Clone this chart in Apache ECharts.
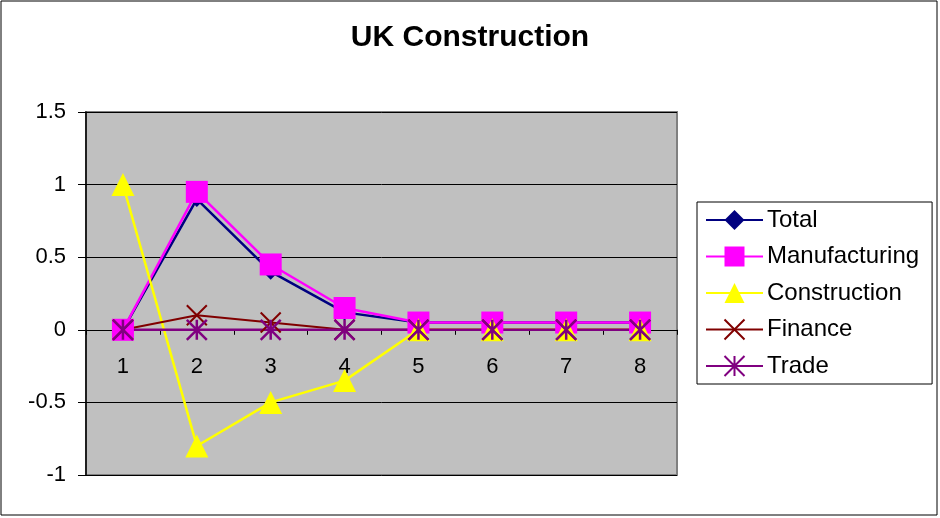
<!DOCTYPE html>
<html>
<head>
<meta charset="utf-8">
<script src="https://cdn.jsdelivr.net/npm/echarts@6/dist/echarts.min.js"></script>
<style>
html,body{margin:0;padding:0;background:#fff;}
#c{width:940px;height:518px;}
</style>
</head>
<body>
<div id="c"></div>
<script>
const categories = ['1','2','3','4','5','6','7','8'];
const total = [0, 0.9, 0.4, 0.12, 0.05, 0.05, 0.05, 0.05];
const manufacturing = [0, 0.95, 0.45, 0.15, 0.05, 0.05, 0.05, 0.05];
const construction = [1.0, -0.8, -0.5, -0.35, 0, 0, 0, 0];
const finance = [0, 0.1, 0.05, 0, 0, 0, 0, 0];
const trade = [0, 0, 0, 0, 0, 0, 0, 0];
const yTicks = {min: -1, max: 1.5, interval: 0.5};

const FONT = '"Liberation Sans", Arial, sans-serif';
const GRID = {left: 86, right: 263, top: 112, bottom: 43};
const plotH = 518 - GRID.top - GRID.bottom;
const zeroOffset = -plotH * (0 - yTicks.min) / (yTicks.max - yTicks.min);

const chart = echarts.init(document.getElementById('c'));

function mk(name, data, color, symbol, size, lw, extra) {
  return Object.assign({
    name: name, type: 'line', data: data,
    symbol: symbol, symbolSize: size,
    lineStyle: {color: color, width: lw},
    itemStyle: {color: color, borderColor: color, borderWidth: 0, opacity: 1},
    emphasis: {disabled: true},
    animation: false
  }, extra || {});
}

chart.setOption({
  backgroundColor: '#ffffff',
  animation: false,
  title: {
    text: 'UK Construction', left: 'center', top: 18,
    textStyle: {fontFamily: FONT, fontSize: 30, fontWeight: 'bold', color: '#000'}
  },
  graphic: [{
    type: 'rect', shape: {x: 1, y: 1, width: 936, height: 514},
    style: {fill: 'none', stroke: '#000', lineWidth: 1}, silent: true, z: -1
  }],
  grid: Object.assign({
    show: true, backgroundColor: '#C0C0C0', borderColor: '#808080', borderWidth: 2
  }, GRID),
  legend: {
    orient: 'vertical', left: 697, top: 202,
    data: ['Total','Manufacturing','Construction','Finance','Trade'],
    itemWidth: 57, itemHeight: 25, itemGap: 12.5,
    padding: [6, 13, 6, 8],
    borderColor: '#000', borderWidth: 1, backgroundColor: '#fff',
    textStyle: {fontFamily: FONT, fontSize: 24, color: '#000', padding: [0,0,0,-1]},
    selectedMode: false
  },
  xAxis: {
    type: 'category', data: categories, boundaryGap: true,
    offset: zeroOffset,
    axisLine: {onZero: false, lineStyle: {color: '#000', width: 1}},
    axisTick: {show: true, length: 5, lineStyle: {color: '#000'}},
    axisLabel: {fontFamily: FONT, fontSize: 22, color: '#000', margin: 26},
    splitLine: {show: false}
  },
  yAxis: {
    type: 'value', min: yTicks.min, max: yTicks.max, interval: yTicks.interval,
    axisLine: {show: true, lineStyle: {color: '#000', width: 1.5}},
    axisTick: {show: true, length: 8, lineStyle: {color: '#000'}},
    axisLabel: {fontFamily: FONT, fontSize: 22, color: '#000', margin: 20},
    splitLine: {show: true, lineStyle: {color: '#000', width: 1}}
  },
  series: [
    mk('Total', total, '#000080', 'diamond', 16, 2.5),
    mk('Manufacturing', manufacturing, '#FF00FF', 'rect', 22, 2.5),
    mk('Construction', construction, '#FFFF00', 'triangle', 23, 2.5),
    mk('Finance', finance, '#800000', 'path://M0,0L10,10M10,0L0,10', 20, 2,
       {itemStyle: {color: '#800000', borderColor: '#800000', borderWidth: 2}}),
    mk('Trade', trade, '#800080', 'path://M5,0L5,10M0,0L10,10M10,0L0,10', 20, 2.5,
       {itemStyle: {color: '#800080', borderColor: '#800080', borderWidth: 2.5}})
  ]
});
</script>
</body>
</html>
